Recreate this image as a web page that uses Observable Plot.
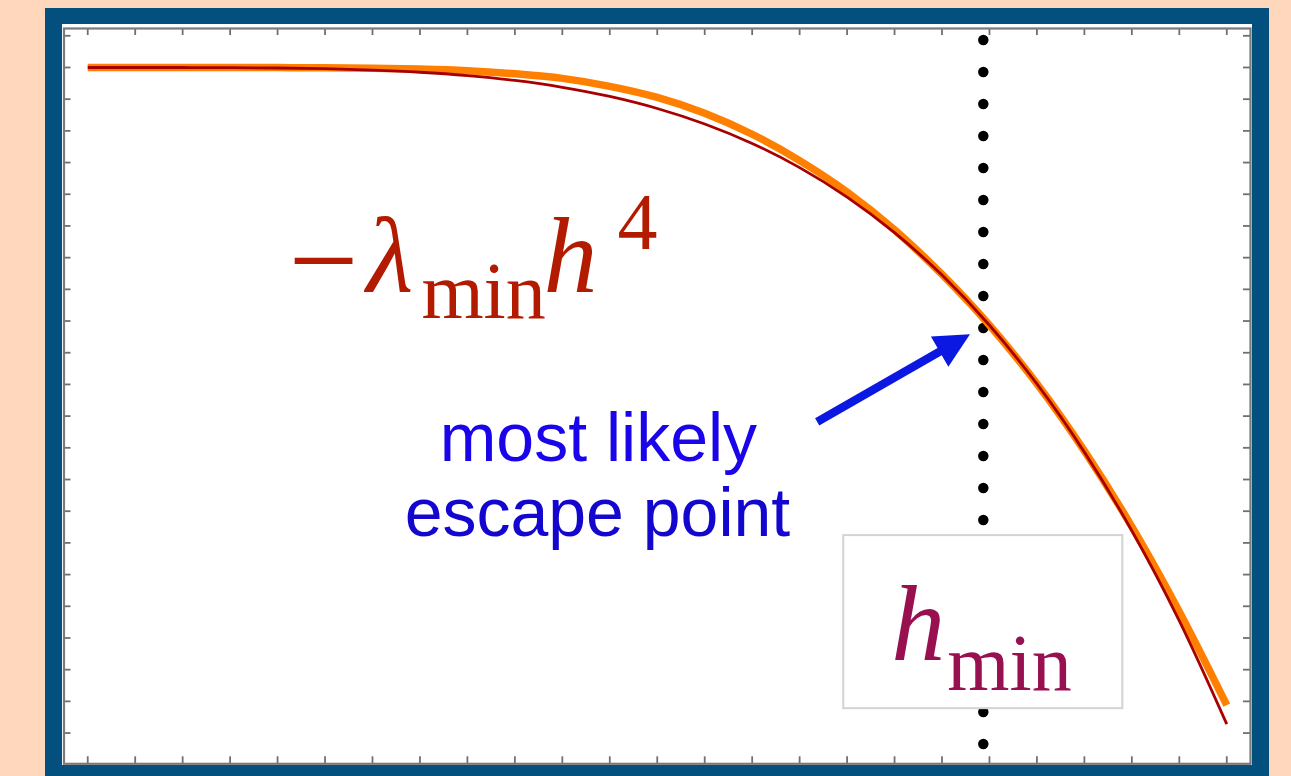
<!DOCTYPE html>
<html>
<head>
<meta charset="utf-8">
<script src="https://cdn.jsdelivr.net/npm/d3@7"></script>
<script src="https://cdn.jsdelivr.net/npm/@observablehq/plot@0.6"></script>
<style>
  html, body { margin: 0; padding: 0; overflow: hidden; width: 1291px; height: 776px; background: #ffd7bd; }
  #panel {
    position: absolute; left: 45px; top: 8px;
    width: 1190px; height: 741px;
    background: #ffffff;
    border-style: solid; border-color: #03507f;
    border-width: 16px 17px 17px 17px;
  }
  #chart { position: absolute; left: 0; top: 0; }
</style>
</head>
<body>
<div id="panel"></div>
<div id="chart"></div>
<script>
// Field value h (arbitrary units) and the two potentials V(h)
const h = [0, 1, 2, 3, 4, 5, 6, 7, 8, 9, 10, 11, 12, 13, 14, 15, 16, 17, 18, 19, 20, 21, 22, 23, 24];

// quartic approximation  -lambda_min h^4
const quarticV = [0, -0.0001, -0.001, -0.005, -0.016, -0.039, -0.081, -0.150, -0.256, -0.409,
  -0.624, -0.914, -1.294, -1.782, -2.397, -3.159, -4.089, -5.212, -6.551, -8.132,
  -9.984, -12.136, -14.617, -17.46, -20.72];

// full effective potential, touching the quartic at h_min
const potentialV = [0, -0.0001, 0, -0.001, -0.004, -0.009, -0.021, -0.048, -0.100, -0.199,
  -0.344, -0.594, -0.944, -1.442, -2.107, -2.939, -3.929, -5.122, -6.531, -8.132,
  -9.979, -12.096, -14.487, -17.17, -20.12];

const hMin = 18.87;

// tick positions along both axes (no labels drawn)
const hTicks = [0, 1, 2, 3, 4, 5, 6, 7, 8, 9, 10, 11, 12, 13, 14, 15, 16, 17, 18, 19, 20, 21, 22, 23, 24];
const vTicks = [-21, -20, -19, -18, -17, -16, -15, -14, -13, -12, -11, -10, -9, -8, -7, -6, -5, -4, -3, -2, -1, 0, 1];

// annotation anchors, in data units
const quarticLabel = {h: 4.27, v: -7.07};
const hMinLabel = {h: hMin, v: -18.71};
const escapeLines = [
  {h: 10.76, v: -12.43, text: "most likely", color: "#1a04ea"},
  {h: 10.74, v: -14.77, text: "escape point", color: "#1206cf"}
];
const hMinBox = [{x1: hMin - 2.94, x2: hMin + 2.94, y1: -14.77, y2: -20.23}];
const arrowTail = {h: 15.38, v: -11.20};
const arrowTip = {h: 18.60, v: -8.43};

const quarticRows = h.map((x, i) => ({h: x, v: quarticV[i]}));
const potentialRows = h.map((x, i) => ({h: x, v: potentialV[i]}));

const marginTop = 28, marginBottom = 12.7, marginLeft = 63.5, marginRight = 41;
const W = 1291, H = 776;
const innerW = W - marginLeft - marginRight;
const innerH = H - marginTop - marginBottom;
const tickLen = 7;

const serif = "'Liberation Serif', 'Times New Roman', Times, serif";
const sans = "'Liberation Sans', Arial, Helvetica, sans-serif";
const red = "#b31b00";
const purple = "#98104f";

// pieces of the "−λ_min h^4" label: offsets in px from the anchor baseline
const quarticParts = [
  {t: "\u2212", size: 124, style: "normal", dx: -2, dy: 10},
  {t: "\u03bb", size: 108, style: "italic", dx: 76, dy: 0},
  {t: "min", size: 80, style: "normal", dx: 131, dy: 26},
  {t: "h", size: 108, style: "italic", dx: 253, dy: 0},
  {t: "4", size: 80, style: "normal", dx: 327, dy: -43}
];
const hMinParts = [
  {t: "h", size: 108, style: "italic", dx: -92, dy: 0},
  {t: "min", size: 80, style: "normal", dx: -36, dy: 30}
];

function labelMarks(anchor, parts, color) {
  return parts.map(p => Plot.text([{h: anchor.h, v: anchor.v, t: p.t}], {
    x: "h", y: "v", text: "t",
    fontSize: p.size, fontStyle: p.style, fontFamily: serif,
    textAnchor: "start", lineAnchor: "bottom",
    dx: p.dx, dy: p.dy, fill: color
  }));
}

// filled arrow from tail to tip, placed through the x/y scales
function arrowMark(index, scales) {
  const x1 = scales.x(arrowTail.h), y1 = scales.y(arrowTail.v);
  const x2 = scales.x(arrowTip.h), y2 = scales.y(arrowTip.v);
  const L = Math.hypot(x2 - x1, y2 - y1);
  const ux = (x2 - x1) / L, uy = (y2 - y1) / L, px = -uy, py = ux;
  const head = 35, half = 17.5, shaft = 4.2;
  const bx = x2 - ux * head, by = y2 - uy * head;
  const pts = [
    [x1 + px * shaft, y1 + py * shaft], [bx + px * shaft, by + py * shaft],
    [bx + px * half, by + py * half], [x2, y2],
    [bx - px * half, by - py * half], [bx - px * shaft, by - py * shaft],
    [x1 - px * shaft, y1 - py * shaft]
  ];
  const path = document.createElementNS("http://www.w3.org/2000/svg", "path");
  path.setAttribute("d", "M" + pts.map(p => p.join(",")).join("L") + "Z");
  path.setAttribute("fill", "#0b18e2");
  return path;
}

const chart = Plot.plot({
  width: W, height: H,
  marginTop, marginBottom, marginLeft, marginRight,
  style: {background: "transparent", overflow: "visible"},
  x: {domain: [-0.5, 24.5], axis: null},
  y: {domain: [-21.97, 1.23], axis: null},
  marks: [
    // inward ticks on all four sides
    Plot.ruleX(hTicks, {insetBottom: innerH - tickLen, stroke: "#6f6f6f", strokeWidth: 1.8}),
    Plot.ruleX(hTicks, {insetTop: innerH - tickLen, stroke: "#6f6f6f", strokeWidth: 1.8}),
    Plot.ruleY(vTicks, {insetRight: innerW - tickLen, stroke: "#6f6f6f", strokeWidth: 1.8}),
    Plot.ruleY(vTicks, {insetLeft: innerW - tickLen, stroke: "#6f6f6f", strokeWidth: 1.8}),
    Plot.frame({stroke: "#7a7a7a", strokeWidth: 2.2}),
    // dotted marker at h_min
    Plot.ruleX([hMin], {stroke: "black", strokeWidth: 10.5, strokeDasharray: "0 32",
      strokeDashoffset: 20, strokeLinecap: "round"}),
    Plot.rect(hMinBox, {x1: "x1", x2: "x2", y1: "y1", y2: "y2", fill: "white",
      stroke: "#d3d3d3", strokeWidth: 2}),
    // curves
    Plot.line(potentialRows, {x: "h", y: "v", stroke: "#ff8000", strokeWidth: 7.5,
      strokeLinecap: "butt", curve: "catmull-rom"}),
    Plot.line(quarticRows, {x: "h", y: "v", stroke: "#a80000", strokeWidth: 2.8,
      strokeLinecap: "butt", curve: "catmull-rom"}),
    // labels
    ...labelMarks(quarticLabel, quarticParts, red),
    ...labelMarks(hMinLabel, hMinParts, purple),
    ...escapeLines.map(d => Plot.text([d], {x: "h", y: "v", text: "text", fill: d.color,
      fontSize: 68, fontFamily: sans, textAnchor: "middle", lineAnchor: "bottom"})),
    arrowMark
  ]
});

document.getElementById("chart").appendChild(chart);
</script>
</body>
</html>
